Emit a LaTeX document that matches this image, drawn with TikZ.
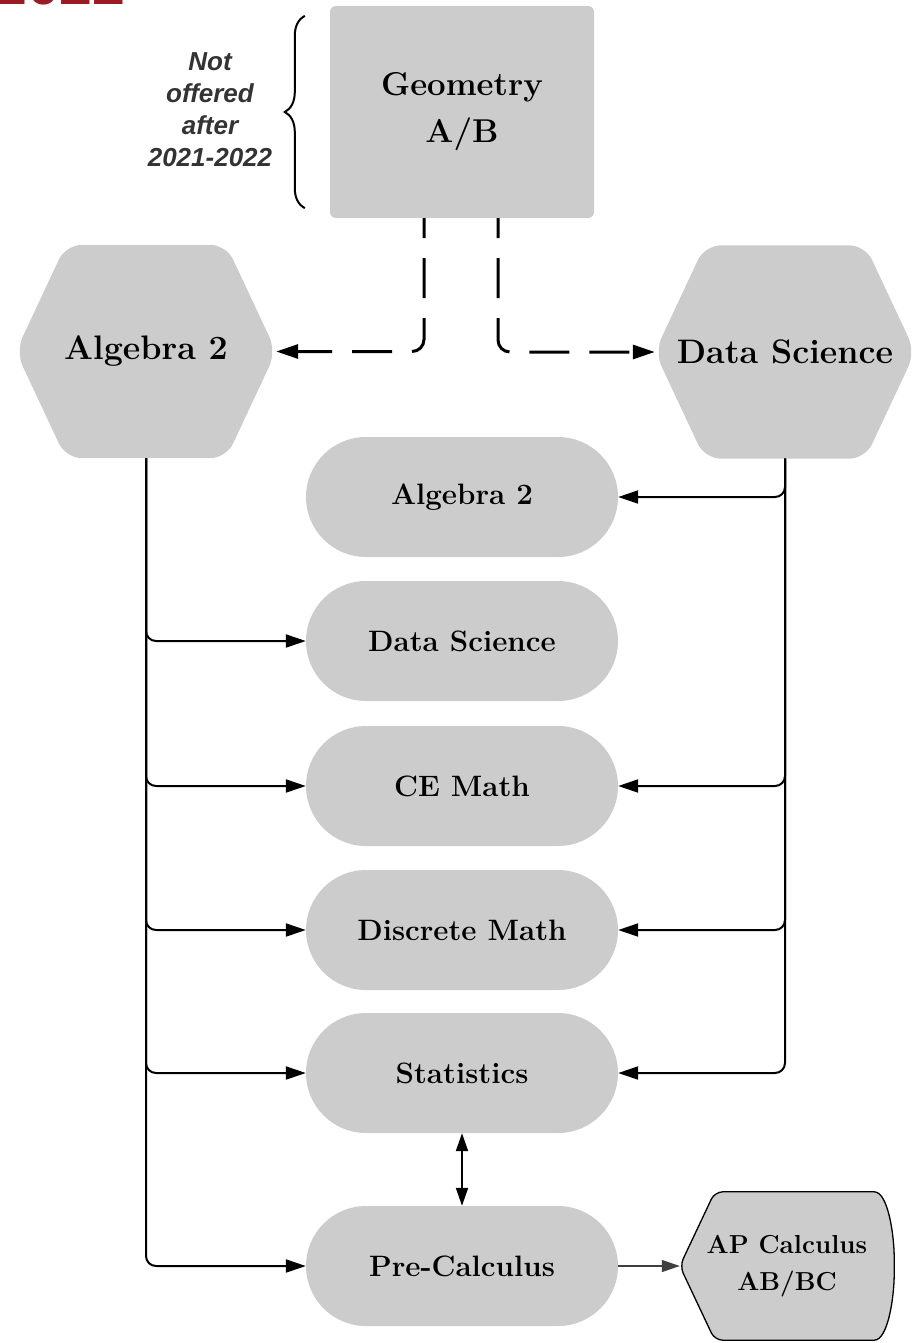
\documentclass[tikz,border=0pt]{standalone}
\usepackage{fontspec}
\setsansfont{Liberation Sans}
\usepackage{tikz}
\usetikzlibrary{arrows.meta,backgrounds,decorations.pathreplacing}

\definecolor{boxgray}{HTML}{CCCCCC}
\definecolor{notegray}{HTML}{333333}
\definecolor{titlered}{HTML}{9A1B23}

\tikzset{
    geobox/.style={rectangle, rounded corners=6pt, fill=boxgray, minimum width=264pt,
        minimum height=212pt, align=center, font=\bfseries\fontsize{33}{47}\selectfont},
    hexcourse/.style={minimum width=260pt, minimum height=213pt, inner sep=0pt,
        font=\bfseries\fontsize{34}{40}\selectfont},
    pillcourse/.style={rectangle, rounded corners=60pt, fill=boxgray, minimum width=312pt,
        minimum height=120pt, font=\bfseries\fontsize{29.5}{36}\selectfont},
    apbox/.style={minimum width=214pt, minimum height=148pt, inner sep=0pt, align=center,
        font=\bfseries\fontsize{26}{37}\selectfont},
    conn/.style={line width=2pt, rounded corners=10pt, -{Triangle[length=20pt,width=13pt]}},
    dashconn/.style={line width=3pt, rounded corners=12pt, dash pattern=on 40pt off 20pt,
        dash phase=20pt, -{Triangle[length=22pt,width=14pt]}},
    bothconn/.style={line width=2pt, {Triangle[length=18pt,width=12pt]}-{Triangle[length=18pt,width=12pt]}},
    thinconn/.style={line width=1.3pt, draw=black!75, -{Triangle[length=18pt,width=12pt]}}
}

\begin{document}
\begin{tikzpicture}[x=1pt,y=-1pt]
    \useasboundingbox (0,0) rectangle (918,1343);

    \node[anchor=base east, text=titlered, font=\sffamily\bfseries\fontsize{59}{60}\selectfont] (title) at (129,5) {2022};

    \node[geobox] (geo) at (462,112) {Geometry\\A/B};
    \draw[line width=2pt, decorate, decoration={brace, amplitude=20pt}]
        ([xshift=-25pt,yshift=10pt]geo.south west) -- ([xshift=-25pt,yshift=-10pt]geo.north west);
    \node[align=center, text=notegray, font=\sffamily\bfseries\itshape\fontsize{26}{32}\selectfont] (note) at (210,110) {Not\\offered\\after\\2021-2022};

    \node[hexcourse] (alghex) at (146,351.5) {Algebra 2};
    \node[hexcourse] (dshex) at (785,352) {Data Science};
    \begin{scope}[on background layer]
        \foreach \h in {alghex,dshex}
            \fill[boxgray, rounded corners=16pt] (\h.west) -- ([xshift=50pt]\h.north west)
                -- ([xshift=-50pt]\h.north east) -- (\h.east)
                -- ([xshift=-50pt]\h.south east) -- ([xshift=50pt]\h.south west) -- cycle;
    \end{scope}

    \node[pillcourse] (algcrs) at (462,497) {Algebra 2};
    \node[pillcourse] (dscrs) at (462,641) {Data Science};
    \node[pillcourse] (cemath) at (462,786) {CE Math};
    \node[pillcourse] (discmath) at (462,930) {Discrete Math};
    \node[pillcourse] (stats) at (462,1073) {Statistics};
    \node[pillcourse] (precalc) at (462,1266) {Pre-Calculus};

    \node[apbox] (apcalc) at (787,1266) {AP Calculus\\AB/BC};
    \begin{scope}[on background layer]
        \filldraw[fill=boxgray, draw=black, line width=1.3pt, rounded corners=8pt]
            (apcalc.west) -- ([xshift=35pt]apcalc.north west) -- ([xshift=-28pt]apcalc.north east)
            .. controls ([xshift=-6pt]apcalc.north east) and ([yshift=30pt]apcalc.east) .. (apcalc.east)
            .. controls ([yshift=-30pt]apcalc.east) and ([xshift=-6pt]apcalc.south east) .. ([xshift=-28pt]apcalc.south east)
            -- ([xshift=35pt]apcalc.south west) -- cycle;
    \end{scope}

    \draw[dashconn] ([xshift=-38pt]geo.south) |- (alghex.east);
    \draw[dashconn] ([xshift=36pt]geo.south) |- (dshex.west);

    \draw[conn] (alghex.south) |- (dscrs.west);
    \draw[conn] (alghex.south) |- (cemath.west);
    \draw[conn] (alghex.south) |- (discmath.west);
    \draw[conn] (alghex.south) |- (stats.west);
    \draw[conn] (alghex.south) |- (precalc.west);

    \draw[conn] (dshex.south) |- (algcrs.east);
    \draw[conn] (dshex.south) |- (cemath.east);
    \draw[conn] (dshex.south) |- (discmath.east);
    \draw[conn] (dshex.south) |- (stats.east);

    \draw[bothconn] (stats.south) -- (precalc.north);
    \draw[thinconn] (precalc.east) -- (apcalc.west);
\end{tikzpicture}
\end{document}
